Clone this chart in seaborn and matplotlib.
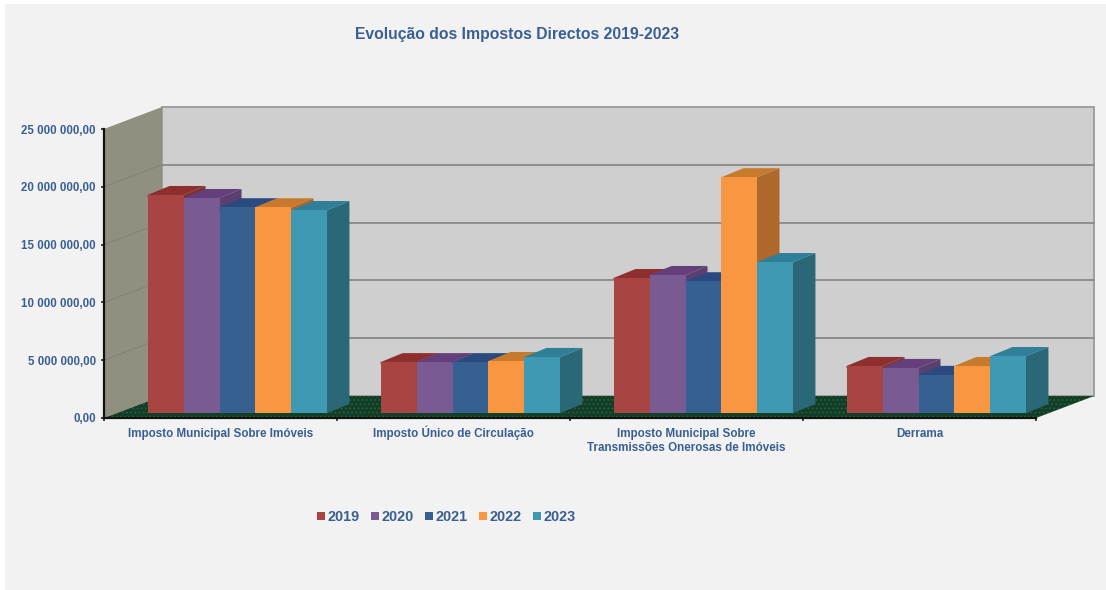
import matplotlib
matplotlib.use("Agg")
import matplotlib.pyplot as plt
import pandas as pd
import seaborn as sns
from matplotlib.patches import Polygon, Rectangle
from matplotlib.transforms import ScaledTranslation

categories = ["Imposto Municipal Sobre Imóveis", "Imposto Único de Circulação",
              "Imposto Municipal Sobre\nTransmissões Onerosas de Imóveis", "Derrama"]
years = ["2019", "2020", "2021", "2022", "2023"]
v2019 = [18.86e6, 4.40e6, 11.68e6, 4.07e6]
v2020 = [18.60e6, 4.40e6, 11.94e6, 3.90e6]
v2021 = [17.80e6, 4.40e6, 11.40e6, 3.30e6]
v2022 = [17.80e6, 4.50e6, 20.40e6, 4.07e6]
v2023 = [17.56e6, 4.85e6, 13.06e6, 4.93e6]
y_ticks = [0, 5e6, 10e6, 15e6, 20e6, 25e6]
y_labels = ["0,00", "5 000 000,00", "10 000 000,00", "15 000 000,00", "20 000 000,00", "25 000 000,00"]
front_colors = ["#A84442", "#7A5A92", "#35608F", "#F99642", "#4099B3"]
side_colors = ["#7E3230", "#5A3F70", "#25456E", "#AF682C", "#2A6878"]
top_colors = ["#8C2F2E", "#653F7C", "#2A4A80", "#C87A2C", "#2F7F98"]

W, H = 1106, 590
TXT = "#3A5F95"
sns.set_theme(style="white")
plt.rcParams["font.family"] = ["Liberation Sans", "DejaVu Sans"]
plt.rcParams["font.weight"] = "bold"
plt.rcParams["hatch.linewidth"] = 0.7

fig = plt.figure(figsize=(W / 100, H / 100), dpi=100, facecolor="white")
fig.patches.append(Rectangle((5 / W, 0), 1 - 5 / W, 1 - 4 / H, transform=fig.transFigure,
                             facecolor="#F2F2F2", edgecolor="none", zorder=-10))

PX_X = 1 / 233          # category units per pixel
PX_Y = 5e6 / 57.8       # value units per pixel

# front plane: axes with ticks and labels
ax = fig.add_axes([104 / W, 1 - 418 / H, 932 / W, 289 / H], facecolor="none")
ax.set_xlim(-0.5, 3.5)
ax.set_ylim(0, 25e6)
DX, DY = 58 * PX_X, 22 * PX_Y
x0, x1, ytop = -0.5, 3.5, 25e6

ax.add_patch(Polygon([(x0 + DX, DY), (x1 + DX, DY), (x1 + DX, ytop + DY), (x0 + DX, ytop + DY)],
                     closed=True, fc="#CFCFCF", ec="#9A9A9A", lw=1.3, clip_on=False, zorder=1))
ax.add_patch(Polygon([(x0, 0), (x0 + DX, DY), (x0 + DX, ytop + DY), (x0, ytop)],
                     closed=True, fc="#908F80", ec="none", lw=0, clip_on=False, zorder=1))
ax.add_patch(Polygon([(x0, 0), (x1, 0), (x1 + DX, DY), (x0 + DX, DY)],
                     closed=True, fc="#123D26", ec="#2C6340", hatch="....", lw=0,
                     clip_on=False, zorder=1.5))
for t in y_ticks[1:-1]:
    ax.plot([x0 + DX, x1 + DX], [t + DY, t + DY], color="#8E8E8E", lw=1.4, clip_on=False, zorder=1.2)
    ax.plot([x0, x0 + DX], [t, t + DY], color="#828174", lw=0.7, clip_on=False, zorder=1.2)

for s in ["top", "right"]:
    ax.spines[s].set_visible(False)
for s in ["left", "bottom"]:
    ax.spines[s].set_color("#111111")
    ax.spines[s].set_linewidth(1.6)
    ax.spines[s].set_zorder(2)
ax.set_yticks(y_ticks)
ax.set_yticklabels(y_labels, fontsize=8.3, color=TXT, fontweight="bold")
ax.set_xticks([-0.5, 0.5, 1.5, 2.5, 3.5])
ax.set_xticklabels([])
ax.set_xticks([0, 1, 2, 3], minor=True)
ax.set_xticklabels(categories, minor=True, fontsize=8.4, color=TXT, fontweight="bold", linespacing=1.25)
ax.tick_params(axis="both", which="major", length=2.5, width=1.1, color="#111111", left=True, bottom=True)
ax.tick_params(axis="y", which="major", pad=3.5)
ax.tick_params(axis="x", which="minor", length=0, pad=7, bottom=False, labelbottom=True)
minor_labels = ax.get_xticklabels(minor=True)
for lab in minor_labels:
    lab.set_verticalalignment("top")
# accent on the capital would push this label lower than its neighbours
minor_labels[1].set_transform(minor_labels[1].get_transform()
                              + ScaledTranslation(0, 2 / 100, fig.dpi_scale_trans))

# bars: same scale, shifted into the depth of the floor
df = pd.DataFrame({"categoria": categories * 5,
                   "ano": [y for y in years for _ in categories],
                   "valor": v2019 + v2020 + v2021 + v2022 + v2023})
bx = fig.add_axes([(104 + 17) / W, 1 - 413 / H, 932 / W, 289 / H], facecolor="none", zorder=3)
sns.barplot(data=df, x="categoria", y="valor", hue="ano", order=categories, hue_order=years,
            palette=front_colors, saturation=1, width=0.772, gap=0, errorbar=None, ax=bx, linewidth=0)
bx.set_xlim(-0.5, 3.5)
bx.set_ylim(0, 25e6)
bx.axis("off")

dx, dy = 22 * PX_X, 9 * PX_Y
lap_x, lap_y = 2 * PX_X, 2 * PX_Y   # side and top slip under the front face, leaving no seam
entries = []
for k, cont in enumerate(bx.containers):
    for p in cont.patches:
        entries.append((p.get_x(), k, p))
entries.sort(key=lambda e: e[0])
for z, (_, k, p) in enumerate(entries):
    xl, w, h = p.get_x(), p.get_width(), p.get_height()
    xr = xl + w
    base = 5 + 3 * z
    bx.add_patch(Polygon([(xr - lap_x, 0), (xr, 0), (xr + dx, dy), (xr + dx, h + dy), (xr, h), (xr - lap_x, h)],
                         closed=True, fc=side_colors[k], ec="none", clip_on=False, zorder=base))
    bx.add_patch(Polygon([(xl, h - lap_y), (xr, h - lap_y), (xr, h), (xr + dx, h + dy), (xl + dx, h + dy), (xl, h)],
                         closed=True, fc=top_colors[k], ec="none", clip_on=False, zorder=base + 1))
    p.set_zorder(base + 2)

handles, labels = bx.get_legend_handles_labels()
if bx.get_legend():
    bx.get_legend().remove()
fig.legend(handles, labels, ncol=5, loc="center left", bbox_to_anchor=(317 / W, 1 - 517 / H),
           frameon=False, handlelength=0.55, handleheight=0.5, handletextpad=0.2, columnspacing=0.76,
           prop={"size": 10.4, "weight": "bold"}, labelcolor=TXT, borderpad=0, borderaxespad=0)

fig.text(517.5 / W, 1 - 35 / H, "Evolução dos Impostos Directos 2019-2023", ha="center", va="center",
         fontsize=11.3, fontweight="bold", color=TXT)

fig.savefig("out.png", dpi=100, facecolor=fig.get_facecolor())
